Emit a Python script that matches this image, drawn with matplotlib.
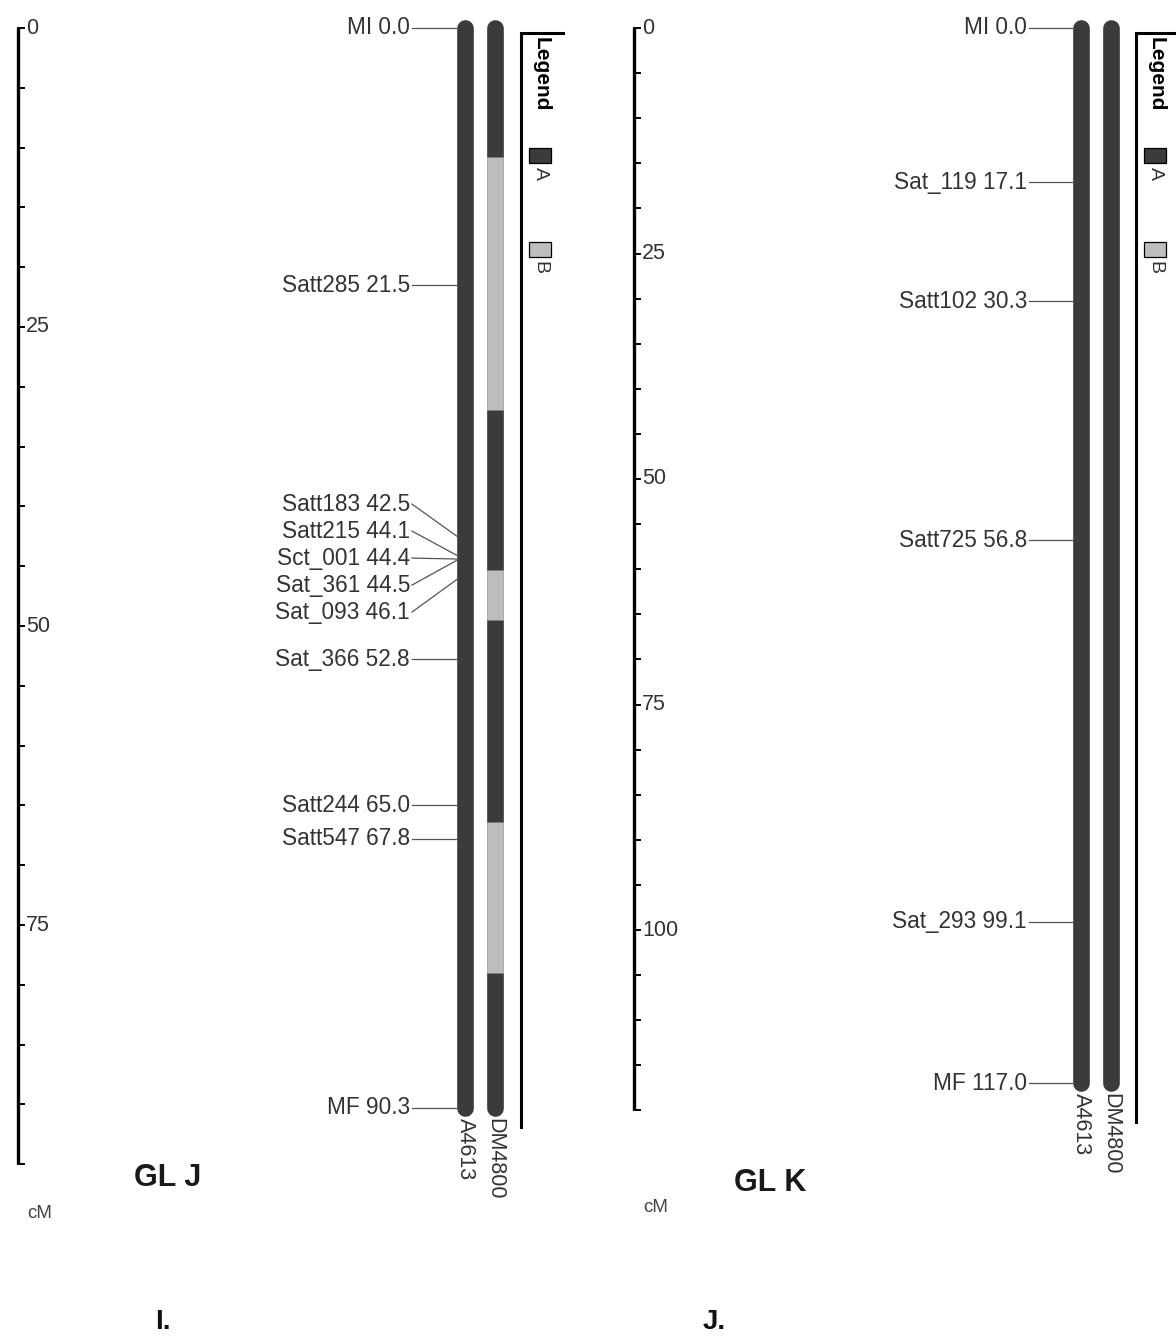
import matplotlib
matplotlib.use("Agg")
import matplotlib.pyplot as plt
from matplotlib.patches import Rectangle

plt.rcParams['font.family'] = ['Liberation Sans', 'DejaVu Sans']

DARK = '#3b3b3b'
LIGHT = '#bdbdbd'
TXT = '#333333'

# linkage group J
j_markers = ['MI', 'Satt285', 'Satt183', 'Satt215', 'Sct_001', 'Sat_361',
             'Sat_093', 'Sat_366', 'Satt244', 'Satt547', 'MF']
j_pos = [0.0, 21.5, 42.5, 44.1, 44.4, 44.5, 46.1, 52.8, 65.0, 67.8, 90.3]
j_dm_start = [0.0, 10.8, 31.9, 45.3, 49.5, 66.4, 79.0]
j_dm_end = [10.8, 31.9, 45.3, 49.5, 66.4, 79.0, 90.3]
j_dm_type = ['A', 'B', 'A', 'B', 'A', 'B', 'A']
j_scale_max = 95

# linkage group K
k_markers = ['MI', 'Sat_119', 'Satt102', 'Satt725', 'Sat_293', 'MF']
k_pos = [0.0, 17.1, 30.3, 56.8, 99.1, 117.0]
k_dm_start = [0.0]
k_dm_end = [117.0]
k_dm_type = ['A']
k_scale_max = 120

strains = ['A4613', 'DM4800']
legend_keys = ['A', 'B']
seg_color = {'A': DARK, 'B': LIGHT}

fig = plt.figure(figsize=(11.76, 13.38), dpi=100)
H = 1338
TOP = 28  # pixel row of 0 cM


def spread(pos, gap):
    # push overlapping labels apart, keeping each crowded group centred
    groups = [[p] for p in pos]
    merged = True
    while merged:
        merged = False
        out = [groups[0]]
        for g in groups[1:]:
            prev = out[-1]
            pc = sum(prev) / len(prev)
            gc = sum(g) / len(g)
            ptop = pc + (len(prev) - 1) / 2 * gap
            gbot = gc - (len(g) - 1) / 2 * gap
            if gbot - ptop < gap - 1e-9:
                out[-1] = prev + g
                merged = True
            else:
                out.append(g)
        groups = out
    res = []
    for g in groups:
        c = sum(g) / len(g)
        for i in range(len(g)):
            res.append(c + (i - (len(g) - 1) / 2) * gap)
    return res


def draw_group(left, x0, scale, markers, pos, dm_start, dm_end, dm_type,
               smax, title, letter, axis_x, label_x, bar_x, legend_x,
               legend_px, title_x, title_px, cm_px, letter_x):
    ax = fig.add_axes([left, 0, 0.5, 1])
    ax.set_xlim(x0, x0 + 588)
    ax.set_ylim((H - TOP) / scale, -TOP / scale)
    ax.axis('off')
    py = lambda p: (p - TOP) / scale  # pixel row -> cM

    # cM scale bar
    ax.plot([axis_x, axis_x], [0, smax], color='black', lw=2.4,
            solid_capstyle='butt')
    for t in range(0, smax + 1, 5):
        ax.plot([axis_x, axis_x + 6], [t, t], color='black', lw=1.4)
        if t % 25 == 0 and t < smax:
            ax.text(axis_x + 8, t, str(t), ha='left', va='center',
                    fontsize=15.5, color=TXT)
    ax.text(axis_x + 9, py(cm_px), 'cM', ha='left', va='center',
            fontsize=13.5, color='#444444')
    ax.text(title_x, py(title_px), title, ha='center', va='center',
            fontsize=22, fontweight='bold', color='#1a1a1a')
    ax.text(letter_x, py(1322), letter, ha='center', va='center',
            fontsize=20, fontweight='bold', color='#111111')

    # chromosomes
    bw = 12
    a_x, d_x = bar_x
    top, bot = pos[0], pos[-1]
    ax.plot([a_x, a_x], [top, bot], color=DARK, lw=bw,
            solid_capstyle='round')
    ax.plot([d_x, d_x], [top, bot], color=DARK, lw=bw,
            solid_capstyle='round')
    for s, e, t in zip(dm_start, dm_end, dm_type):
        if t != 'A':
            ax.plot([d_x, d_x], [s, e], color=seg_color[t], lw=bw,
                    solid_capstyle='butt')
    for xx, name in zip(bar_x, strains):
        ax.text(xx, bot + py(TOP + 10), name, rotation=-90, ha='center',
                va='top', fontsize=15.5, color=TXT)

    # marker labels and connectors
    lab = spread(pos, 27 / scale)
    edge = a_x - 8
    for m, p, lp in zip(markers, pos, lab):
        ax.text(label_x, lp, f'{m} {p:.1f}', ha='right', va='center',
                fontsize=16.3, color=TXT)
        ax.plot([label_x + 2, edge], [lp, p], color='#555555', lw=0.9)

    # legend frame
    ax.plot([legend_x + 42, legend_x, legend_x], [py(33), py(33),
            py(legend_px)], color='black', lw=2.2, solid_joinstyle='miter')
    ax.text(legend_x + 20, py(37), 'Legend', rotation=-90, ha='center',
            va='top', fontsize=15, fontweight='bold', color='black')
    for k, y0 in zip(legend_keys, [148, 242]):
        ax.add_patch(Rectangle((legend_x + 8, py(y0)), 22, 15 / scale,
                               facecolor=seg_color[k], edgecolor='black',
                               lw=0.9))
        ax.text(legend_x + 19, py(y0 + 19), k, rotation=-90, ha='center',
                va='top', fontsize=14, color=TXT)
    return ax


draw_group(0.0, 0, 11.96, j_markers, j_pos, j_dm_start, j_dm_end,
           j_dm_type, j_scale_max, 'GL J', 'I.', axis_x=18, label_x=410,
           bar_x=(465, 495), legend_x=521, legend_px=1127,
           title_x=168, title_px=1178, cm_px=1213, letter_x=163)

draw_group(0.5, 588, 9.02, k_markers, k_pos, k_dm_start, k_dm_end,
           k_dm_type, k_scale_max, 'GL K', 'J.', axis_x=634, label_x=1027,
           bar_x=(1081, 1111), legend_x=1136, legend_px=1122,
           title_x=770, title_px=1183, cm_px=1208, letter_x=714)

fig.savefig('out.png', dpi=100, facecolor='white')
